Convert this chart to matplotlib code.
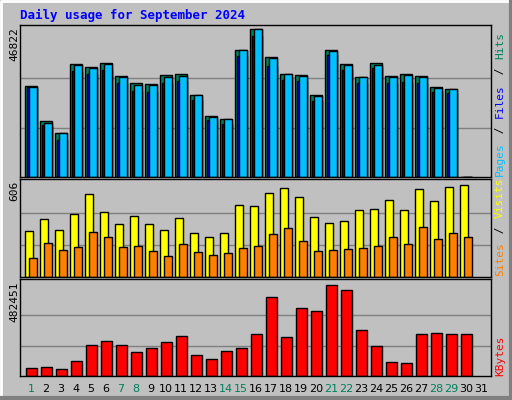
import matplotlib
matplotlib.use("Agg")
import matplotlib.pyplot as plt

# ---------- data ----------
days = list(range(1, 32))
hits = [28700, 17800, 14000, 35800, 34900, 36100, 31900, 29800, 29300, 32200,
        32500, 26100, 19400, 18200, 40100, 46822, 38000, 32500, 32200, 25800,
        40100, 35800, 31800, 36100, 31900, 32500, 31900, 28400, 28000, 0]
pages = [28400, 17200, 14000, 35500, 34500, 35800, 31500, 29100, 29100, 31500,
         31900, 26100, 19100, 18200, 40100, 46800, 37700, 32500, 32000, 25500,
         39800, 35500, 31500, 35500, 31500, 32200, 31600, 28100, 27700, 0]
files = [28400, 16400, 11800, 33500, 32500, 33700, 29600, 27300, 26900, 29600,
         30300, 24500, 18000, 16900, 38300, 44700, 35200, 30800, 30300, 24000,
         38500, 33700, 29600, 34500, 29900, 30200, 29900, 26800, 26500, 0]
visits = [290, 365, 296, 397, 524, 410, 334, 385, 334, 297,
          372, 277, 250, 277, 454, 448, 533, 564, 502, 376,
          340, 353, 420, 427, 483, 426, 557, 478, 570, 578]
sites = [120, 213, 169, 187, 282, 251, 187, 194, 162, 132,
         207, 156, 138, 151, 181, 195, 270, 307, 225, 164,
         169, 175, 181, 194, 250, 207, 313, 238, 276, 250]
kbytes = [44300, 49600, 39000, 81200, 166000, 182000, 166000, 124000, 150000, 177000,
          213000, 113000, 92000, 134000, 145000, 224000, 419000, 203000, 357000, 341000,
          482451, 456000, 245000, 160000, 76000, 66000, 219000, 229000, 219000, 219000]
weekend = {1, 7, 8, 14, 15, 21, 22, 28, 29}

MAX_TOP, MAX_MID, MAX_BOT = 46822, 606, 482451
BG = "#c0c0c0"
GREEN = "#00805c"
MONO = "DejaVu Sans Mono"

W, H = 512, 400
fig = plt.figure(figsize=(W / 100, H / 100), dpi=100, facecolor=BG)

def px_axes(x0, y0, x1, y1):
    return fig.add_axes([x0 / W, 1 - y1 / H, (x1 - x0) / W, (y1 - y0) / H])

X0, X1 = 20, 491
xlim = ((X0 - 25) / 15 + 1, (X0 - 25) / 15 + 1 + (X1 - X0) / 15)

def setup(ax, top_px, base_px, maxpx, vmax):
    ax.set_facecolor(BG)
    ax.set_xlim(*xlim)
    ax.set_ylim(0, vmax * (base_px - top_px) / maxpx)
    ax.set_xticks([])
    ax.set_yticks([])
    for s in ax.spines.values():
        s.set_color("black")
        s.set_linewidth(1.0)
    ax.axhline(vmax / 3, color="#808080", lw=1.0, zorder=0)
    ax.axhline(vmax * 2 / 3, color="#808080", lw=1.0, zorder=0)

px = 1 / 15  # one pixel in day units

# top: hits / files / pages
ax1 = px_axes(X0, 25, X1, 177)
setup(ax1, 25, 176, 147, MAX_TOP)
d = days[:30]
ax1.bar(d, hits, width=11.7 * px, align="edge", color=GREEN, edgecolor="black", lw=1)
ax1.bar([x + 2.3 * px for x in d], files, width=9.4 * px, align="edge", color="#0000ff", edgecolor="black", lw=1)
ax1.bar([x + 3.6 * px for x in d], pages, width=8.1 * px, align="edge", color="#00c0ff", edgecolor="black", lw=1)

# middle: visits / sites
ax2 = px_axes(X0, 179, X1, 277)
setup(ax2, 179, 277, 96, MAX_MID)
ax2.bar(d, visits, width=8 * px, align="edge", color="#ffff00", edgecolor="black", lw=1)
ax2.bar([x + 4.3 * px for x in d], sites, width=7.7 * px, align="edge", color="#ff8000", edgecolor="black", lw=1)

# bottom: kbytes
ax3 = px_axes(X0, 279, X1, 376)
setup(ax3, 279, 376, 91.5, MAX_BOT)
ax3.bar([x + 1 * px for x in d], kbytes, width=10.7 * px, align="edge", color="#ff0000", edgecolor="black", lw=1)

# title
fig.text(20 / W, 1 - 15 / H, "Daily usage for September 2024", color="#0000ff",
         family=MONO, fontsize=9, fontweight="bold", va="center", ha="left")

# left max labels
for ytop, lab in [(27, "46822"), (181, "606"), (281, "482451")]:
    fig.text(14 / W, 1 - ytop / H, lab, rotation=90, family=MONO, fontsize=8,
             va="top", ha="center")

# right legends, stacked from the bottom up
def legend(ybot, parts):
    y = ybot
    for txt, col in parts:
        fig.text(500 / W, 1 - y / H, txt, rotation=90, family=MONO, fontsize=8,
                 color=col, va="bottom", ha="center")
        y -= len(txt) * 7.3

legend(176, [("Pages", "#00c0ff"), (" / ", "black"), ("Files", "#0000ff"), (" / ", "black"), ("Hits", GREEN)])
legend(276, [("Sites", "#ff8000"), (" / ", "black"), ("Visits", "#ffff00")])
legend(376, [("KBytes", "#ff0000")])

# day labels
for dd in days:
    x = X0 + (dd - xlim[0]) * 15 + 6
    fig.text(x / W, 1 - 389 / H, str(dd), family="DejaVu Sans", fontsize=8,
             color=GREEN if dd in weekend else "black", ha="center", va="center")

# bevel frame
frame = fig.add_axes([0, 0, 1, 1], facecolor="none", zorder=-1)
frame.set_xlim(0, W)
frame.set_ylim(H, 0)
frame.axis("off")
frame.plot([1, 1, W - 1], [H - 1, 1, 1], color="white", lw=2)
frame.plot([1, W - 1, W - 1], [H - 2, H - 2, 1], color="#808080", lw=3)

fig.savefig("out.png", dpi=100, facecolor=BG)
